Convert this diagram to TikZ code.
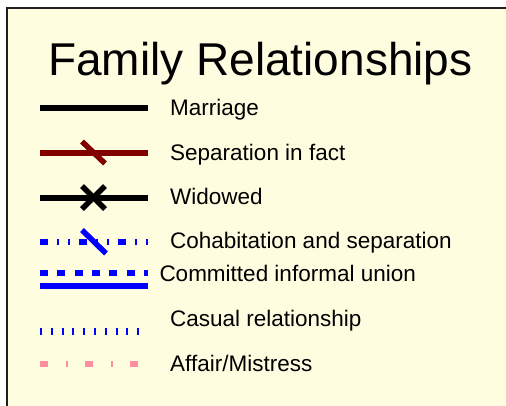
\documentclass[tikz,border=0pt]{standalone}
\usepackage{fontspec}
\setmainfont{Liberation Sans}
\definecolor{boxfill}{RGB}{255,253,224}
\definecolor{boxline}{RGB}{30,30,30}
\definecolor{sepred}{RGB}{128,0,0}
\definecolor{relblue}{RGB}{0,0,255}
\definecolor{affpink}{RGB}{255,140,160}
\begin{document}
\begin{tikzpicture}[x=1pt,y=-1pt,
  lbl/.style={anchor=base west,inner sep=0pt,font=\fontsize{22.5}{27}\selectfont},
  ttl/.style={anchor=base west,inner sep=0pt,font=\fontsize{46}{54}\selectfont},
  legline/.style={line width=6pt,line cap=butt},
  crossbar/.style={line width=5.5pt,line cap=butt}]
\useasboundingbox (0,0) rectangle (506,405);
\fill[white] (0,0) rectangle (506,405);
\draw[boxline,fill=boxfill,line width=2pt] (7,8) rectangle (510,410);

\node[ttl] (title) at (48,75) {Family Relationships};

% Marriage
\draw[legline,black] (40,108) -- (147.5,108);
\node[lbl] (marriage) at (170,115) {Marriage};

% Separation in fact
\draw[legline,sepred] (40,153) -- (147.5,153);
\draw[crossbar,sepred] (82,141.5) -- (105,163.5);
\node[lbl] (separation) at (170,160) {Separation in fact};

% Widowed
\draw[legline,black] (40,197.5) -- (147.5,197.5);
\draw[crossbar,black] (82,186) -- (105,209);
\draw[crossbar,black] (105,186) -- (82,209);
\node[lbl] (widowed) at (170,204) {Widowed};

% Cohabitation and separation
\draw[legline,relblue,dash pattern=on 8pt off 9pt on 2pt off 9pt on 2pt off 9pt] (40,242) -- (147.5,242);
\draw[crossbar,relblue] (82,230) -- (106,253.5);
\node[lbl] (cohab) at (170,248.3) {Cohabitation and separation};

% Committed informal union
\draw[legline,relblue,dash pattern=on 8pt off 9.3pt] (40,273) -- (147.5,273);
\draw[legline,relblue] (40,286.3) -- (147.5,286.3);
\node[lbl] (committed) at (159.3,281.7) {Committed informal union};

% Casual relationship
\draw[relblue,line width=7pt,line cap=butt,dash pattern=on 2pt off 8.8pt] (40,331) -- (139.5,331);
\node[lbl] (casual) at (170,326.7) {Casual relationship};

% Affair/Mistress
\draw[affpink,line width=6.5pt,line cap=butt,dash pattern=on 8.3pt off 17.2pt on 2.2pt off 17.3pt] (40,364) -- (138.5,364);
\node[lbl] (affair) at (170,371) {Affair/Mistress};
\end{tikzpicture}
\end{document}
